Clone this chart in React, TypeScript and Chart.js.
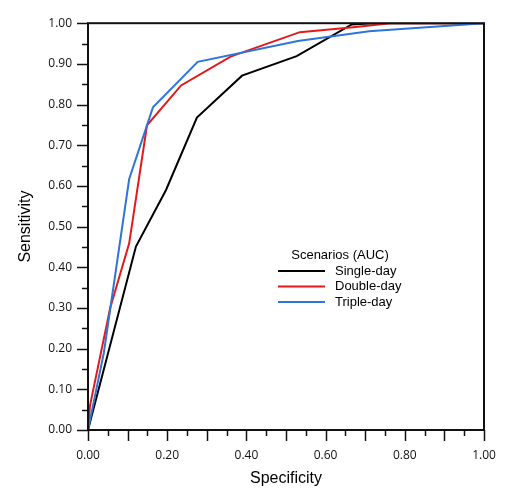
import React, { useEffect, useRef } from "react";
import { Chart, registerables } from "chart.js";

Chart.register(...registerables);

const seriesNames = ["Single-day", "Double-day", "Triple-day"];
const seriesColors = ["#000000", "#e31a1c", "#2f74d9"];

const singleX = [0, 0.121, 0.197, 0.275, 0.389, 0.527, 0.666, 0.72, 1.0];
const singleY = [0, 0.451, 0.59, 0.768, 0.871, 0.919, 0.997, 1.0, 1.0];

const doubleX = [0, 0.005, 0.056, 0.104, 0.149, 0.235, 0.36, 0.535, 0.67, 0.763, 1.0];
const doubleY = [0, 0.06, 0.3, 0.459, 0.749, 0.847, 0.918, 0.978, 0.99, 1.0, 1.0];

const tripleX = [0, 0.04, 0.104, 0.164, 0.277, 0.53, 0.71, 1.0];
const tripleY = [0, 0.19, 0.617, 0.793, 0.905, 0.956, 0.98, 1.0];

const legendTitle = "Scenarios (AUC)";
const xTitle = "Specificity";
const yTitle = "Sensitivity";

const toPoints = (xs: number[], ys: number[]) => xs.map((x, i) => ({ x, y: ys[i] }));

const decorPlugin = {
  id: "decor",
  afterDraw(chart: any) {
    const { ctx, chartArea, scales } = chart;
    const xs = scales.x;
    const ys = scales.y;
    ctx.save();
    ctx.strokeStyle = "#111";
    // frame
    ctx.lineWidth = 2;
    ctx.strokeRect(chartArea.left, chartArea.top, chartArea.right - chartArea.left, chartArea.bottom - chartArea.top);
    // ticks
    ctx.lineWidth = 1.5;
    for (let i = 0; i <= 20; i++) {
      const v = i * 0.05;
      const major = i % 2 === 0;
      const len = major ? 11 : 6;
      const px = Math.round(xs.getPixelForValue(v)) + 0.5;
      ctx.beginPath();
      ctx.moveTo(px, chartArea.bottom);
      ctx.lineTo(px, chartArea.bottom + len);
      ctx.stroke();
      const py = Math.round(ys.getPixelForValue(v)) + 0.5;
      ctx.beginPath();
      ctx.moveTo(chartArea.left, py);
      ctx.lineTo(chartArea.left - len, py);
      ctx.stroke();
    }
    // axis titles
    ctx.fillStyle = "#000";
    ctx.font = "16px 'Liberation Sans', Arial, sans-serif";
    ctx.textAlign = "center";
    ctx.textBaseline = "middle";
    ctx.fillText(xTitle, (chartArea.left + chartArea.right) / 2, 479);
    ctx.save();
    ctx.translate(26, (chartArea.top + chartArea.bottom) / 2);
    ctx.rotate(-Math.PI / 2);
    ctx.fillText(yTitle, 0, 0);
    ctx.restore();
    // legend
    ctx.font = "13px 'Liberation Sans', Arial, sans-serif";
    ctx.textAlign = "center";
    ctx.fillText(legendTitle, 340, 255);
    ctx.textAlign = "left";
    const rows = [271, 286.5, 302];
    seriesNames.forEach((name, i) => {
      ctx.strokeStyle = seriesColors[i];
      ctx.lineWidth = 2.2;
      ctx.beginPath();
      ctx.moveTo(278, rows[i]);
      ctx.lineTo(325, rows[i]);
      ctx.stroke();
      ctx.fillStyle = "#000";
      ctx.fillText(name, 335, rows[i]);
    });
    ctx.restore();
  },
};

export default function App() {
  const ref = useRef<HTMLCanvasElement>(null);
  useEffect(() => {
    document.body.style.margin = "0";
    const canvas = ref.current!;
    const seriesX = [singleX, doubleX, tripleX];
    const seriesY = [singleY, doubleY, tripleY];
    const chart = new Chart(canvas, {
      type: "scatter",
      data: {
        datasets: seriesNames.map((name, i) => ({
          label: name,
          data: toPoints(seriesX[i], seriesY[i]),
          showLine: true,
          borderColor: seriesColors[i],
          backgroundColor: seriesColors[i],
          borderWidth: 2,
          pointRadius: 0,
          tension: 0,
          order: 3 - i,
        })),
      },
      options: {
        responsive: false,
        animation: false,
        layout: { padding: { left: 0, top: 20, right: 32, bottom: 0 } },
        plugins: { legend: { display: false }, tooltip: { enabled: false } },
        scales: {
          x: {
            type: "linear",
            min: 0,
            max: 1,
            grid: { display: false, drawTicks: false },
            border: { display: false },
            ticks: {
              stepSize: 0.2,
              padding: 18,
              color: "#111",
              font: { family: "'Open Sans', sans-serif", size: 12 },
              callback: (v: any) => Number(v).toFixed(2),
              maxRotation: 0,
            },
            afterFit: (s: any) => {
              s.height = 74;
            },
          },
          y: {
            type: "linear",
            min: 0,
            max: 1,
            grid: { display: false, drawTicks: false },
            border: { display: false },
            ticks: {
              stepSize: 0.1,
              padding: 16,
              color: "#111",
              font: { family: "'Open Sans', sans-serif", size: 12 },
              callback: (v: any) => Number(v).toFixed(2),
            },
            afterFit: (s: any) => {
              s.width = 88;
            },
          },
        },
      },
      plugins: [decorPlugin],
    });
    return () => chart.destroy();
  }, []);
  return <canvas ref={ref} width={516} height={504} style={{ display: "block" }} />;
}
